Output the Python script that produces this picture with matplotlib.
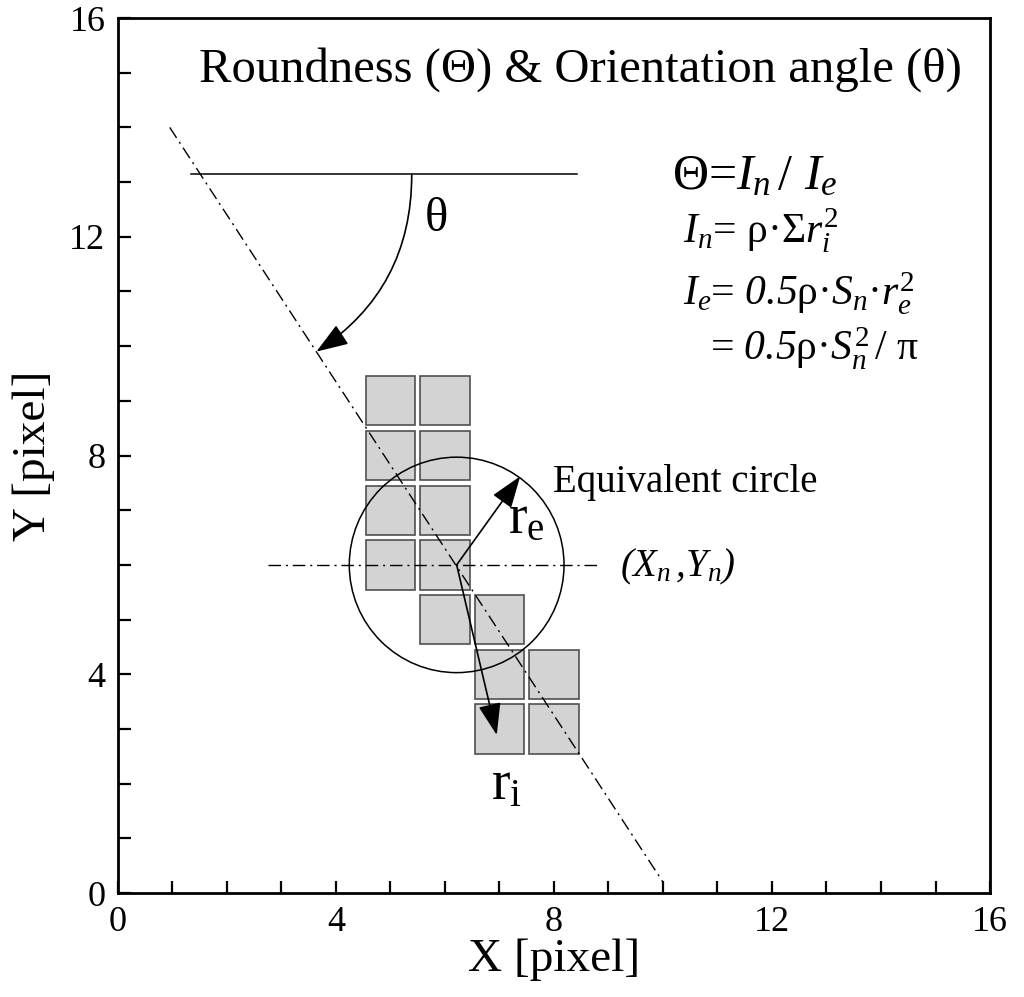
import matplotlib
matplotlib.use('Agg')
import matplotlib.pyplot as plt
from matplotlib.patches import Rectangle, Circle, FancyArrowPatch
import numpy as np

plt.rcParams['font.family'] = ['Liberation Serif', 'DejaVu Serif']
plt.rcParams['mathtext.fontset'] = 'custom'
plt.rcParams['mathtext.rm'] = 'Liberation Serif'
plt.rcParams['mathtext.it'] = 'Liberation Serif:italic'
# italic digits / punctuation via \mathsf
plt.rcParams['mathtext.sf'] = 'Liberation Serif:italic'

# pixel cells (centres) of the particle
cell_x = [5, 6, 5, 6, 5, 6, 5, 6, 6, 7, 7, 8, 7, 8]
cell_y = [9, 9, 8, 8, 7, 7, 6, 6, 5, 5, 4, 4, 3, 3]
cell_size = 0.9

# equivalent circle
r_equiv = 1.97
# orientation axis (dash-dot) end points
axis_x = [0.95, 10.0]
axis_y = [14.0, 0.2]
# horizontal reference line
ref_x = [1.34, 8.42]
ref_y = 13.14
# horizontal dash-dot through centroid
cen_line_x = [2.75, 8.84]
# arrow tips
re_tip = (7.38, 7.62)
ri_tip = (6.95, 2.89)
# angle arrow
theta_start = (5.39, 13.14)
theta_end = (3.64, 9.90)

xticks = [0, 4, 8, 12, 16]
yticks = [0, 4, 8, 12, 16]

xc = np.mean(cell_x)
yc = np.mean(cell_y)

fig = plt.figure(figsize=(10.24, 9.97), dpi=100)
ax = fig.add_axes([0.1152, 0.1043, 0.8516, 0.8776])
ax.set_xlim(0, 16)
ax.set_ylim(0, 16)

dashdot = (0, (9, 3.5, 1.5, 3.5))

for x, y in zip(cell_x, cell_y):
    ax.add_patch(Rectangle((x - cell_size / 2, y - cell_size / 2), cell_size, cell_size,
                           facecolor='#d3d3d3', edgecolor='#505050', lw=1.2, zorder=1))

ax.plot(axis_x, axis_y, color='black', lw=1.0, linestyle=dashdot, zorder=3)
ax.plot(cen_line_x, [yc, yc], color='black', lw=1.0, linestyle=dashdot, zorder=3)
ax.plot(ref_x, [ref_y, ref_y], color='black', lw=1.1, zorder=3)

ax.add_patch(Circle((xc, yc), r_equiv, fill=False, edgecolor='black', lw=1.1, zorder=4))

arrow_kw = dict(arrowstyle='-|>,head_length=0.9,head_width=0.32', mutation_scale=22,
                color='black', lw=1.2, zorder=5, shrinkA=0, shrinkB=0)
ax.add_patch(FancyArrowPatch((xc, yc), re_tip, **arrow_kw))
ax.add_patch(FancyArrowPatch((xc, yc), ri_tip, **arrow_kw))
ax.add_patch(FancyArrowPatch(theta_start, theta_end, connectionstyle='arc3,rad=-0.27', **arrow_kw))

# texts
ax.text(8.48, 15.05, 'Roundness (Θ) & Orientation angle (θ)', fontsize=35, ha='center', va='center')
ax.text(5.85, 12.33, 'θ', fontsize=35, ha='center', va='center')
ax.text(10.17, 12.87, 'Θ=$I_n\\,$/ $I_e$', fontsize=36, ha='left', va='baseline')
ax.text(10.37, 11.88, '$I_n$= ρ·Σ$r_i^2$', fontsize=30, ha='left', va='baseline')
ax.text(10.37, 10.75, '$I_e$= $\\mathsf{0.5}$ρ·$S_n$·$r_e^2$', fontsize=30, ha='left', va='baseline')
ax.text(10.86, 9.74, '= $\\mathsf{0.5}$ρ·$S_n^2\\,$/ π', fontsize=30, ha='left', va='baseline')
ax.text(7.98, 7.5, 'Equivalent circle', fontsize=28, ha='left', va='center')
ax.text(7.15, 6.58, '$\\mathrm{r_e}$', fontsize=40, ha='left', va='baseline')
ax.text(9.22, 5.96, '$\\mathsf{(}X_n\\,\\mathsf{,}Y_n\\mathsf{)}$', fontsize=28, ha='left', va='center')
ax.text(6.85, 1.72, '$\\mathrm{r_i}$', fontsize=40, ha='left', va='baseline')

ax.set_xticks(xticks)
ax.set_yticks(yticks)
ax.set_xticks(range(0, 17), minor=True)
ax.set_yticks(range(0, 17), minor=True)
ax.tick_params(which='both', direction='in', length=9, width=1.6, top=False, right=False,
               labelsize=26, pad=9)
for s in ax.spines.values():
    s.set_linewidth(2.0)

ax.set_xlabel('X [pixel]', fontsize=34, labelpad=0)
ax.set_ylabel('Y [pixel]', fontsize=34, labelpad=10)

fig.savefig('out.png', dpi=100)
